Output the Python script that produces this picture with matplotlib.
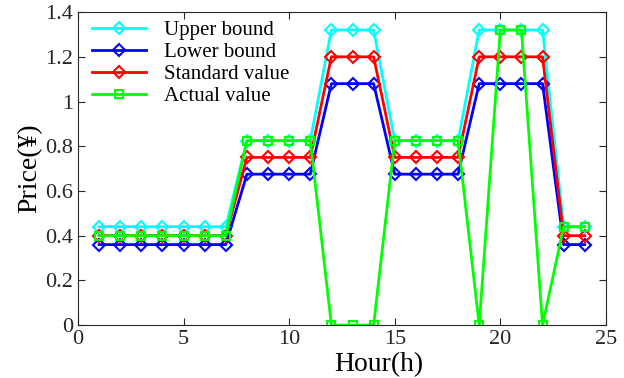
import numpy as np
import matplotlib.pyplot as plt

plt.rcParams['font.family'] = ['Liberation Serif', 'DejaVu Serif']

hours = np.arange(1, 25)
upper = [0.44]*7 + [0.825]*4 + [1.32]*3 + [0.825]*4 + [1.32]*4 + [0.44]*2
lower = [0.36]*7 + [0.675]*4 + [1.08]*3 + [0.675]*4 + [1.08]*4 + [0.36]*2
standard = [0.40]*7 + [0.75]*4 + [1.2]*3 + [0.75]*4 + [1.2]*4 + [0.40]*2
actual = [0.40]*7 + [0.825]*4 + [0]*3 + [0.825]*4 + [0, 1.32, 1.32, 0] + [0.44]*2

fig = plt.figure(figsize=(6.24, 3.78), dpi=100)
ax = fig.add_axes([0.125, 0.14, 0.846, 0.828])

ax.plot(hours, upper, color='#00ffff', marker='D', mfc='none', ms=6, mew=1.5, lw=2, label='Upper bound')
ax.plot(hours, lower, color='#0000ff', marker='D', mfc='none', ms=6, mew=1.5, lw=2, label='Lower bound')
ax.plot(hours, standard, color='#ff0000', marker='D', mfc='none', ms=6, mew=1.5, lw=2, label='Standard value')
ax.plot(hours, actual, color='#00ff00', marker='s', mfc='none', ms=6, mew=1.5, lw=2, label='Actual value')

ax.set_xlim(0, 25)
ax.set_ylim(0, 1.4)
ax.set_xticks([0, 5, 10, 15, 20, 25])
ax.set_yticks([0, 0.2, 0.4, 0.6, 0.8, 1.0, 1.2, 1.4])
ax.set_yticklabels(['0', '0.2', '0.4', '0.6', '0.8', '1', '1.2', '1.4'])
ax.tick_params(direction='in', top=True, right=True, labelsize=16, colors='#262626', length=5)
for s in ax.spines.values():
    s.set_color('#262626')
    s.set_linewidth(0.8)

ax.set_xlabel('Hour(h)', fontsize=20)
ax.xaxis.set_label_coords(0.57, -0.085)
ax.set_ylabel('Price(¥)', fontsize=20, labelpad=2)

ax.legend(loc='upper left', bbox_to_anchor=(0.0, 1.017), frameon=False, fontsize=15,
          handlelength=2.6, labelspacing=0.12, borderaxespad=0.25, handletextpad=0.9)

fig.savefig('out.png', dpi=100)
